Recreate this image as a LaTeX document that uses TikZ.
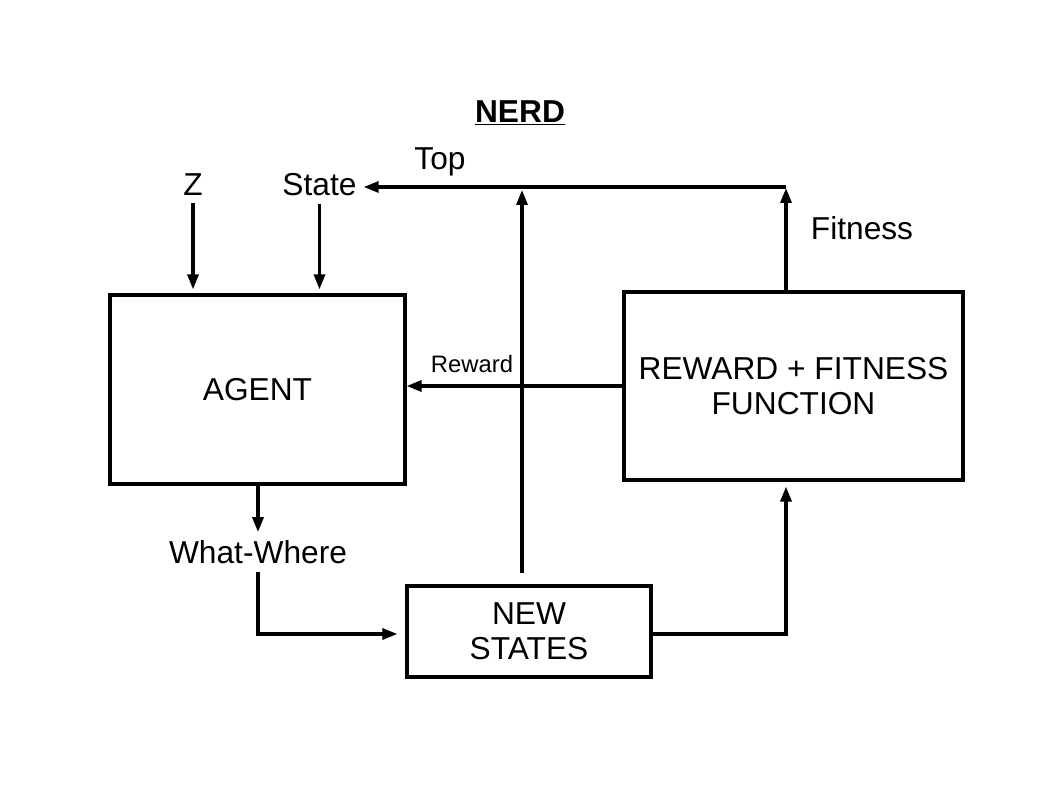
\documentclass[tikz,border=0pt]{standalone}
\usepackage{fontspec}
\setmainfont{Liberation Sans}
\usetikzlibrary{arrows.meta}
\usetikzlibrary{positioning}

\begin{document}
\begin{tikzpicture}[x=1pt,y=-1pt]
    \useasboundingbox (0,0) rectangle (1058,794);

        % title and labels
        \begin{scope}[every node/.style={font=\fontsize{31.7}{35}\selectfont, inner sep=7pt}]
        \node (nerd) at (520,113) {\underline{\textbf{NERD}}};
        \node[anchor=base] (top) at (440,170) {Top};
        \node[anchor=base] (z) at (193,196) {Z};
        \node[anchor=base] (state) at (319.5,196) {State};
        \node[anchor=base] (fit) at (862,240) {Fitness};
        \node[inner ysep=8pt] (ww) at (258,552) {What-Where};
        \node[anchor=base, font=\fontsize{23.8}{28}\selectfont] (rew) at (472,373) {Reward};
        \end{scope}

        % boxes, use the tuple for location
        \begin{scope}[every node/.style={rectangle, draw, line width=3.2pt, inner sep=0pt,
                      align=center, font=\fontsize{31.7}{35}\selectfont}]
        \node[minimum width=295pt, minimum height=189pt] (agent) at (257.5,389.5) {AGENT};
        \node[minimum width=339pt, minimum height=188pt] (reward) at (793.5,386) {REWARD + FITNESS\\FUNCTION};
        \node[minimum width=244pt, minimum height=91pt] (newst) at (529,631.5) {NEW\\STATES};
        \end{scope}

        \coordinate (topR) at (786,187);
        \coordinate (topM) at (522,187);

        % connectors
        \begin{scope}[>={Triangle[length=15pt,width=11pt]},
                  every edge/.style={draw=black, line width=3.2pt}]
        \path [->] (z.south) edge[shorten >=4pt] (z |- agent.north);
        \path [->] (state.south) edge[shorten >=4pt] (state |- agent.north);
        \path [->] (topR |- reward.north) edge[shorten >=1pt] (topR);
        \path [->] (topR) edge (state.east |- topR);
        \path [->] (topM |- newst.north) edge[shorten <=11pt, shorten >=3pt] (topM);
        \path [->] (reward.west) edge (reward.west -| agent.east);
        \path [->] (agent.south -| ww) edge (ww.north);
        \draw [->, line width=3.2pt, shorten >=8pt] (ww.south) |- ([yshift=-2.5pt]newst.west);
        \draw [->, line width=3.2pt, shorten >=5pt] ([yshift=-2.5pt]newst.east) -| (topR |- reward.south);
        \end{scope}

\end{tikzpicture}
\end{document}
